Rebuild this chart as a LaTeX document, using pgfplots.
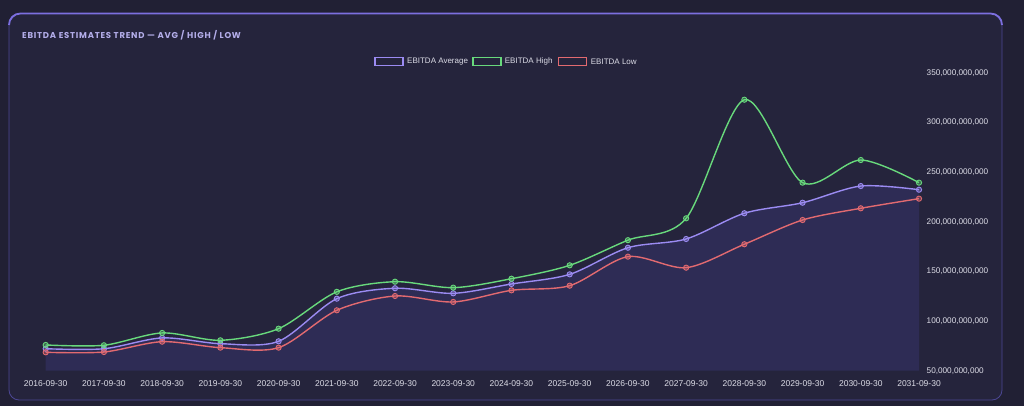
\documentclass[border=0pt]{standalone}
\usepackage{fontspec}
\setmainfont{Liberation Sans}
\newfontfamily\titlefont[LetterSpace=9]{Poppins}
\usepackage{pgfplots}
\pgfplotsset{compat=1.18}

\definecolor{pagebg}{HTML}{212034}
\definecolor{cardbg}{HTML}{25243C}
\definecolor{cardedge}{HTML}{4C4794}
\definecolor{cardtop}{HTML}{7C6FDF}
\definecolor{areafill}{HTML}{2E2C55}
\definecolor{avgcol}{HTML}{9B8BF2}
\definecolor{highcol}{HTML}{68D97C}
\definecolor{lowcol}{HTML}{E26A70}
\definecolor{titlecol}{HTML}{B4AEEA}
\definecolor{labelcol}{HTML}{DCDCE6}

% EBITDA estimates, in billions
\pgfplotstableread{
idx avg   high  low
0   72.1  75.9  68.5
1   72.1  75.6  68.8
2   83.0  88.0  79.2
3   77.2  80.6  73.2
4   79.6  92.3  73.2
5   122.5 129.4 110.8
6   133.0 139.6 125.2
7   127.9 133.6 119.2
8   137.3 142.6 130.9
9   147.0 156.1 135.6
10  173.8 181.4 164.8
11  182.6 203.4 153.7
12  208.5 322.8 177.3
13  219.1 239.3 201.7
14  235.9 262.1 213.5
15  232.2 239.3 223.2
}\ebitda

\begin{document}
\begin{tikzpicture}
\fill[pagebg] (0,0) rectangle (1024pt,406pt);
\fill[cardbg, draw=cardedge, line width=0.8pt, rounded corners=10pt]
  (9pt,6pt) rectangle (1002pt,392.5pt);
\draw[cardtop, line width=1.8pt]
  (9pt,381pt) arc[start angle=180, end angle=90, radius=11.5pt]
  -- (990.5pt,392.5pt) arc[start angle=90, end angle=0, radius=11.5pt];
\node[anchor=west, inner sep=0pt, text=titlecol, font=\titlefont\bfseries\fontsize{8.5}{10}\selectfont]
  at (22pt,371pt) {EBITDA ESTIMATES TREND — AVG / HIGH / LOW};

% legend
\begin{scope}[line width=1.1pt, fill=cardbg]
  \filldraw[draw=avgcol, fill=cardbg] (375pt,340.5pt) rectangle (403pt,348.5pt);
  \filldraw[draw=highcol, fill=cardbg] (473pt,340.5pt) rectangle (501pt,348.5pt);
  \filldraw[draw=lowcol, fill=cardbg] (558.7pt,340.5pt) rectangle (586.7pt,348.5pt);
\end{scope}
\begin{scope}[every node/.style={anchor=west, inner sep=0pt, text=labelcol, font=\fontsize{8}{10}\selectfont}]
  \node at (407pt,344.5pt) {EBITDA Average};
  \node at (504.7pt,344.5pt) {EBITDA High};
  \node at (590.7pt,344.5pt) {EBITDA Low};
\end{scope}

\begin{axis}[
    at={(45.7pt,35.3pt)}, anchor=south west,
    scale only axis,
    width=873.3pt, height=298pt,
    xmin=0, xmax=15,
    ymin=50, ymax=350,
    clip mode=individual,
    axis line style={draw=none},
    tick style={draw=none},
    xtick=data,
    xticklabels={2016-09-30,2017-09-30,2018-09-30,2019-09-30,2020-09-30,2021-09-30,2022-09-30,2023-09-30,2024-09-30,2025-09-30,2026-09-30,2027-09-30,2028-09-30,2029-09-30,2030-09-30,2031-09-30},
    xticklabel style={anchor=north, inner sep=0pt, yshift=-9.2pt, text=labelcol, font=\fontsize{8.5}{10}\selectfont},
    ytick={50,100,150,200,250,300,350},
    yticklabels={{50,000,000,000},{100,000,000,000},{150,000,000,000},{200,000,000,000},{250,000,000,000},{300,000,000,000},{350,000,000,000}},
    yticklabel pos=right,
    yticklabel style={anchor=west, inner sep=0pt, xshift=7.5pt, text=labelcol, font=\fontsize{8.2}{10}\selectfont},
    every axis plot/.append style={smooth, line width=1.4pt, mark=*, mark size=2.6pt},
]
\addplot[draw=none, fill=areafill, mark=none] table[x=idx, y=avg] {\ebitda} \closedcycle;

\addplot[color=avgcol, mark options={draw=avgcol, fill=avgcol, fill opacity=0.35, line width=0.9pt}]
  table[x=idx, y=avg] {\ebitda};
\addplot[color=highcol, mark options={draw=highcol, fill=highcol, fill opacity=0.35, line width=0.9pt}]
  table[x=idx, y=high] {\ebitda};
\addplot[color=lowcol, mark options={draw=lowcol, fill=lowcol, fill opacity=0.35, line width=0.9pt}]
  table[x=idx, y=low] {\ebitda};
\end{axis}
\pgfresetboundingbox
\path[use as bounding box] (0,0) rectangle (1024pt,406pt);
\end{tikzpicture}
\end{document}
